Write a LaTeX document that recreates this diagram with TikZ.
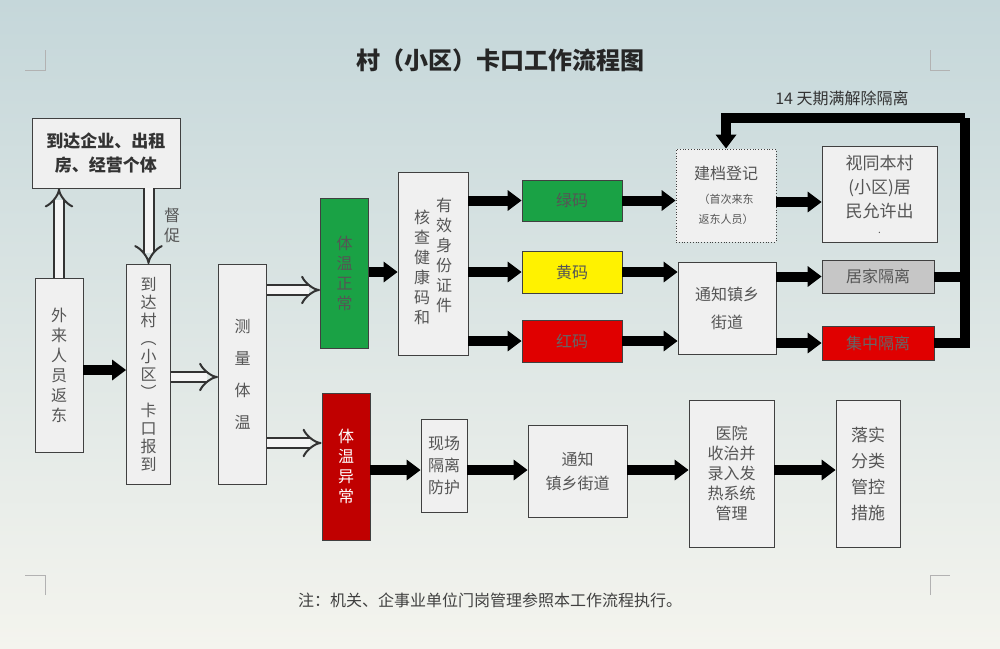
\documentclass[tikz,border=0pt]{standalone}
\usepackage{fontspec}
\newfontfamily\cjk{Noto Sans CJK SC}
\usetikzlibrary{arrows.meta,positioning}
\definecolor{bgtop}{HTML}{C5D7DA}
\definecolor{bgbot}{HTML}{F4F4EE}
\definecolor{okgreen}{HTML}{1AA245}
\definecolor{alarmred}{HTML}{E00000}
\definecolor{darkred}{HTML}{C00000}
\definecolor{txt}{HTML}{555555}
\newcommand{\vt}[1]{\begin{tabular}[t]{@{}c@{}}#1\end{tabular}}

\begin{document}
\begin{tikzpicture}[
    x=0.5pt, y=-0.5pt,
    box/.style={draw=black!75, fill=gray!12, text=txt, font=\cjk\fontsize{8}{10}\selectfont, inner sep=0pt, align=center},
    greenbox/.style={box, fill=okgreen},
    redbox/.style={box, fill=alarmred, text=black!60},
    solidarrow/.style={line width=5pt, -{Triangle[length=7pt,width=10pt]}},
    hollowarrow/.style={draw=black!80, line width=1pt, double=gray!8, double distance=4pt, -{Implies}},
    cropmark/.style={draw=gray!60, line width=0.4pt}
]

% background
\shade[top color=bgtop, bottom color=bgbot] (0,0) rectangle (1000,648);
\useasboundingbox (0,0) rectangle (1000,648);

% corner marks
\draw[cropmark] (45,50) -- (45,70) -- (25,70);
\draw[cropmark] (930,50) -- (930,70) -- (950,70);
\draw[cropmark] (45,595) -- (45,575) -- (25,575);
\draw[cropmark] (930,595) -- (930,575) -- (950,575);

% title and note
\node[font=\cjk\bfseries\fontsize{12}{14}\selectfont, text=black!85] (title) at (500,60) {村（小区）卡口工作流程图};
\node[font=\cjk\fontsize{8}{10}\selectfont, text=black!75] (note) at (490,600) {注：机关、企事业单位门岗管理参照本工作流程执行。};

% left part
\node[box, font=\cjk\bfseries\fontsize{8.5}{12}\selectfont, text=black!80, minimum width=74pt, minimum height=35pt] (arrive) at (106,153) {到达企业、出租\\房、经营个体};
\node[box, minimum width=24pt, minimum height=87pt] (outside) at (59,365) {外\\来\\人\\员\\返\\东};
\node[box, font=\cjk\fontsize{8}{9}\selectfont, minimum width=22pt, minimum height=110pt] (checkpoint) at (148.5,374.5) {到\\达\\村\\︵\\小\\区\\︶\\卡\\口\\报\\到};
\node[box, minimum width=24pt, minimum height=110pt] (measure) at (242.5,374.5) {测\\[6pt]量\\[6pt]体\\[6pt]温};
\node[text=txt, font=\cjk\fontsize{8}{10}\selectfont, align=center] (urge) at (172,225) {督\\促};

% upper branch
\node[greenbox, minimum width=24pt, minimum height=75pt] (normal) at (344.5,273) {体\\温\\正\\常};
\node[box, minimum width=35pt, minimum height=91.5pt] (verify) at (433,263.5) {\vt{\\[-4pt]核\\查\\健\\康\\码\\和}\hspace{3pt}\vt{有\\效\\身\\份\\证\\件}};
\node[greenbox, minimum width=50pt, minimum height=20.5pt] (green) at (572,200.5) {绿码};
\node[box, fill=yellow, minimum width=50pt, minimum height=21pt] (yellow) at (572,272) {黄码};
\node[redbox, minimum width=50pt, minimum height=21pt] (red) at (572,341) {红码};
\node[box, draw, densely dotted, minimum width=50pt, minimum height=46.5pt] (register) at (726,195.5) {建档登记\\[2pt]{\fontsize{5.5}{10}\selectfont （首次来东}\\{\fontsize{5.5}{8}\selectfont 返东人员）}};
\node[box, font=\cjk\fontsize{8.5}{12}\selectfont, minimum width=57.5pt, minimum height=48pt] (resident) at (879.5,194) {视同本村\\(小区)居\\民允许出\\[-4pt]{\tiny.}};
\node[box, minimum width=49pt, minimum height=46pt] (notify) at (727,308) {通知镇乡\\[4pt]街道};
\node[box, fill=gray!45, minimum width=56pt, minimum height=16.5pt] (home) at (878,276.5) {居家隔离};
\node[redbox, minimum width=56pt, minimum height=17pt] (central) at (878,343) {集中隔离};
\node[text=black!80, font=\cjk\fontsize{8}{10}\selectfont] (expire) at (842,98) {14 天期满解除隔离};

% lower branch
\node[box, fill=darkred, text=white, minimum width=24pt, minimum height=73.5pt] (abnormal) at (346,466.5) {体\\温\\异\\常};
\node[box, font=\cjk\fontsize{8}{11}\selectfont, minimum width=23pt, minimum height=46.5pt] (isolate) at (444,465.5) {现场\\隔离\\防护};
\node[box, minimum width=49.5pt, minimum height=46pt] (notifytwo) at (577.5,471) {通知\\[2pt]镇乡街道};
\node[box, minimum width=42.5pt, minimum height=73.5pt] (hospital) at (731.5,473.5) {医院\\收治并\\录入发\\热系统\\管理};
\node[box, font=\cjk\fontsize{8.5}{13}\selectfont, minimum width=32pt, minimum height=73.5pt] (measures) at (868,473.5) {落实\\分类\\管控\\措施};

% hollow arrows
\draw[hollowarrow] (outside.north) -- (arrive.south -| outside.north);
\draw[hollowarrow] (arrive.south -| checkpoint.north) -- (checkpoint.north);
\draw[hollowarrow] (checkpoint.east |- 0,377) -- (measure.west |- 0,377);
\draw[hollowarrow] (measure.east |- 0,290) -- (normal.west |- 0,290);
\draw[hollowarrow] (measure.east |- 0,443) -- (abnormal.west |- 0,443);

% solid arrows
\draw[solidarrow] (outside.east |- 0,370) -- (checkpoint.west |- 0,370);
\draw[solidarrow] (normal.east |- 0,272) -- (verify.west |- 0,272);
\draw[solidarrow] (verify.east |- green) -- (green);
\draw[solidarrow] (verify.east |- yellow) -- (yellow);
\draw[solidarrow] (verify.east |- red) -- (red);
\draw[solidarrow] (green) -- (register.west |- green);
\draw[solidarrow] (yellow) -- (notify.west |- yellow);
\draw[solidarrow] (red) -- (notify.west |- red);
\draw[solidarrow] (register.east |- 0,202) -- (resident.west |- 0,202);
\draw[solidarrow] (notify.east |- home) -- (home);
\draw[solidarrow] (notify.east |- central) -- (central);
\draw[solidarrow] (abnormal.east |- 0,470) -- (isolate.west |- 0,470);
\draw[solidarrow] (isolate.east |- 0,470) -- (notifytwo.west |- 0,470);
\draw[solidarrow] (notifytwo.east |- 0,470) -- (hospital.west |- 0,470);
\draw[solidarrow] (hospital.east |- 0,470) -- (measures.west |- 0,470);

% release loop
\coordinate (loopcorner) at (965,118);
\draw[line width=5pt] (home) -- (home -| loopcorner);
\draw[line width=5pt] (central.east) -- (central -| loopcorner) -- (loopcorner);
\draw[solidarrow] (loopcorner) -- (register.north |- loopcorner) -- (register.north);

\end{tikzpicture}
\end{document}
